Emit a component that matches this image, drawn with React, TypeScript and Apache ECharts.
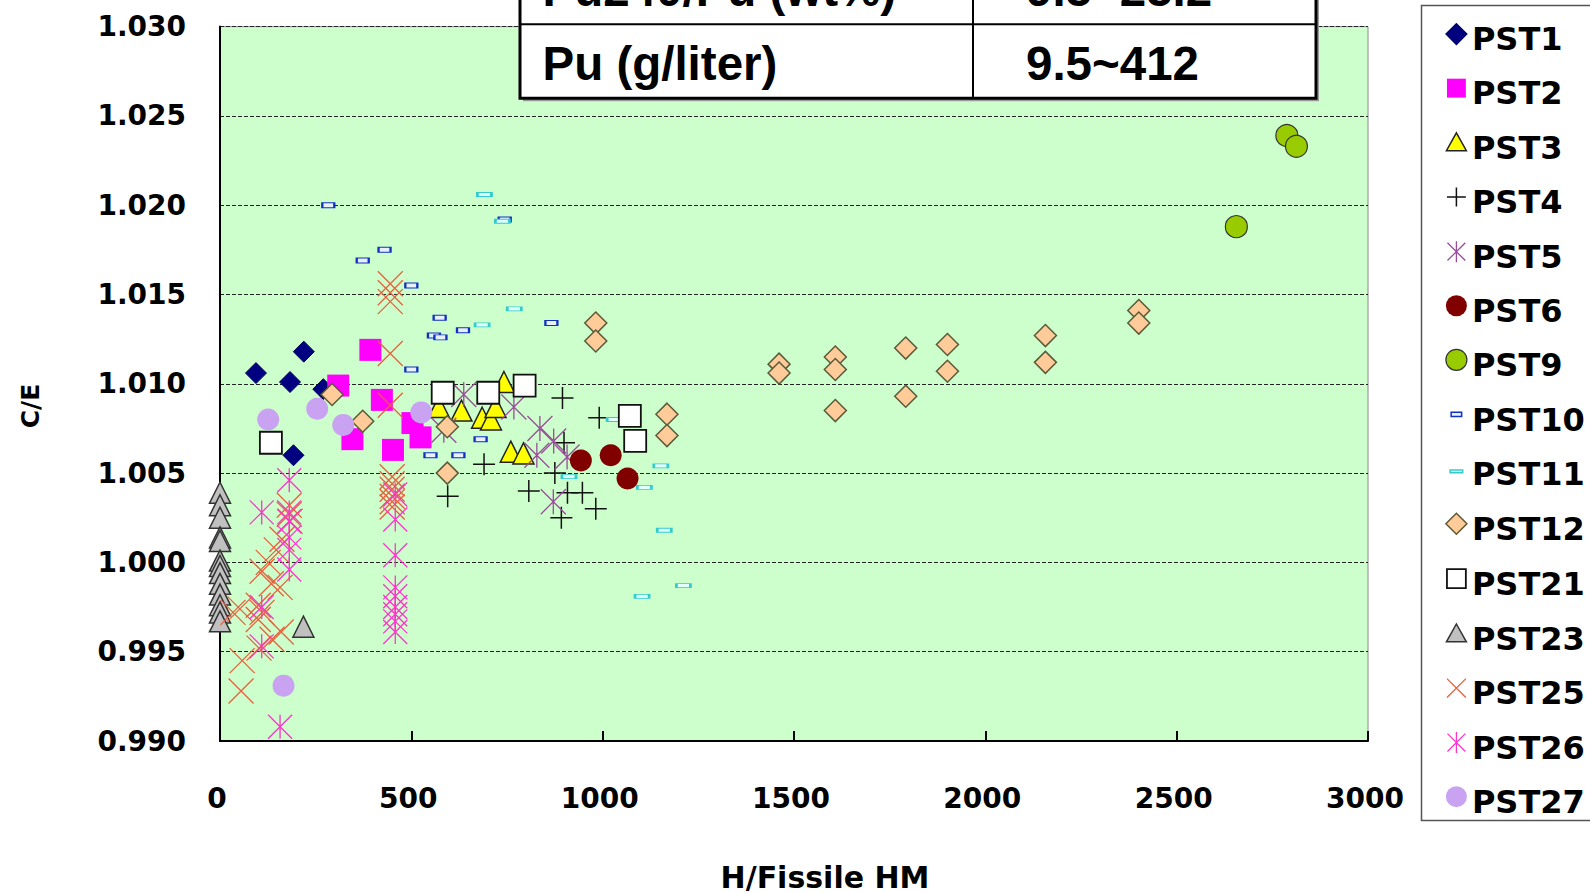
import React, { useEffect, useRef } from "react";
import * as echarts from "echarts";

// ---------- data (x = H/Fissile HM, y = C/E) ----------
const seriesNames = ["PST1", "PST2", "PST3", "PST4", "PST5", "PST6", "PST9", "PST10", "PST11", "PST12", "PST21", "PST23", "PST25", "PST26", "PST27"];

const pst1 = [[94, 1.0106], [183, 1.0101], [219, 1.0118], [192, 1.006], [270, 1.0097]];
const pst2 = [[393, 1.0119], [309, 1.0099], [423, 1.0091], [346, 1.0069], [503, 1.0078], [524, 1.007], [452, 1.0063]];
const pst3 = [[572, 1.0087], [631, 1.0085], [685, 1.0081], [708, 1.008], [720, 1.0087], [742, 1.0101], [760, 1.0062], [793, 1.0061]];
const pst4 = [[895, 1.0092], [991, 1.0081], [690, 1.0055], [595, 1.0037], [807, 1.004], [899, 1.0067], [875, 1.005], [908, 1.0039], [947, 1.0039], [982, 1.003], [892, 1.0025]];
const pst5 = [[637, 1.0094], [768, 1.0087], [836, 1.0075], [872, 1.0068], [828, 1.006], [907, 1.0059], [585, 1.0074], [871, 1.0034]];
const pst6 = [[943, 1.0057], [1021, 1.006], [1065, 1.0047]];
const pst9 = [[2788, 1.0239], [2813, 1.0233], [2656, 1.0188]];
const pst10 = [[283, 1.02], [430, 1.0175], [373, 1.0169], [500, 1.0155], [574, 1.0137], [635, 1.013], [559, 1.0127], [576, 1.0126], [866, 1.0134], [744, 1.0192], [500, 1.0108], [681, 1.0069], [550, 1.006], [623, 1.006]];
const pst11 = [[691, 1.0206], [738, 1.0191], [769, 1.0142], [685, 1.0133], [1030, 1.008], [912, 1.0048], [1152, 1.0054], [1109, 1.0042], [1161, 1.0018], [1103, 0.9981], [1211, 0.9987]];
const pst12 = [[293, 1.0094], [373, 1.0079], [594, 1.0076], [594, 1.005], [982, 1.0134], [982, 1.0124], [1168, 1.0083], [1168, 1.0071], [1461, 1.0111], [1461, 1.0106], [1608, 1.0115], [1608, 1.0108], [1608, 1.0085], [1792, 1.012], [1792, 1.0093], [1901, 1.0122], [1901, 1.0107], [2157, 1.0127], [2157, 1.0112], [2401, 1.0141], [2401, 1.0134]];
const pst21 = [[133, 1.0067], [582, 1.0095], [701, 1.0095], [796, 1.0099], [1071, 1.0082], [1085, 1.0068]];
const pst23 = [[0, 1.0039], [0, 1.0032], [0, 1.0025], [0, 1.0014], [0, 1.0012], [0, 1.0001], [0, 0.9998], [0, 0.9994], [0, 0.9988], [0, 0.9982], [0, 0.9976], [0, 0.9972], [0, 0.9967], [218, 0.9964]];
const pst25 = [[445, 1.0156], [445, 1.0151], [445, 1.0146], [445, 1.0117], [445, 1.0088], [450, 1.0048], [450, 1.0044], [450, 1.0041], [450, 1.0037], [450, 1.0034], [450, 1.0031], [181, 1.0032], [181, 1.0027], [183, 1.0023], [162, 1.0013], [147, 1.0007], [126, 1.0], [110, 0.9995], [134, 0.9988], [157, 0.9986], [52, 0.9974], [34, 0.9972], [100, 0.9976], [110, 0.9972], [100, 0.9968], [160, 0.9961], [136, 0.9957], [102, 0.9952], [58, 0.9945], [55, 0.9928]];
const pst26 = [[181, 1.0046], [181, 1.0028], [181, 1.0023], [181, 1.0014], [181, 1.0007], [181, 0.9996], [109, 1.0028], [109, 0.9975], [109, 0.9953], [157, 0.9908], [458, 1.0038], [458, 1.0024], [458, 1.0004], [458, 0.9986], [458, 0.9981], [458, 0.9975], [458, 0.9971], [458, 0.9967], [458, 0.9961]];
const pst27 = [[126, 1.008], [254, 1.0086], [322, 1.0077], [526, 1.0084], [166, 0.9931]];

const seriesData = [pst1, pst2, pst3, pst4, pst5, pst6, pst9, pst10, pst11, pst12, pst21, pst23, pst25, pst26, pst27];

const xMin = 0;
const xMax = 3000;
const xStep = 500;
const yMin = 0.99;
const yMax = 1.03;
const yStep = 0.005;

const xTitle = "H/Fissile HM";
const yTitle = "C/E";
const tableRows = [
  ["Pu240/Pu (wt%)", "9.5~25.2"],
  ["Pu (g/liter)", "9.5~412"],
];

// ---------- styles ----------
const PLUS = "path://M0,10L20,10M10,0L10,20";
const CROSS = "path://M0,0L20,20M20,0L0,20";
const STAR = "path://M0,0L20,20M20,0L0,20M10,0L10,20";
const NONE = "rgba(0,0,0,0)";

// legend icons in a 20x30 frame (shape in the upper part)
const I_DIAMOND = "path://M10,0L20,10L10,20L0,10ZM0,30";
const I_SQUARE = "path://M1,1L19,1L19,19L1,19ZM0,0M20,30";
const I_TRI = "path://M10,1L19.5,18L0.5,18ZM0,0M20,30";
const I_PLUS = "path://M10,1L10,19M1,10L19,10M0,0M20,30";
const I_STAR = "path://M1.5,1.5L18.5,18.5M18.5,1.5L1.5,18.5M10,0L10,20M0,0M20,30";
const I_CROSS = "path://M1,1L19,19M19,1L1,19M0,0M20,30";
const I_CIRCLE = "path://M0,10A10,10,0,1,1,20,10A10,10,0,1,1,0,10ZM0,0M20,30";
const I_DASH10 = "path://M5,8L15,8L15,12L5,12ZM0,0M20,30";
const I_DASH11 = "path://M4,11L16,11L16,13.5L4,13.5ZM0,0M20,30";

const markerStyles = [
  { symbol: "diamond", size: 21, fill: "#000080", stroke: "#000060", width: 1, icon: I_DIAMOND },
  { symbol: "rect", size: 22, fill: "#FF00FF", stroke: "#FF00FF", width: 0, icon: I_SQUARE },
  { symbol: "triangle", size: 21, fill: "#FFFF00", stroke: "#222222", width: 1.5, icon: I_TRI },
  { symbol: PLUS, size: 22, fill: NONE, stroke: "#111111", width: 1.5, icon: I_PLUS },
  { symbol: STAR, size: 25, fill: NONE, stroke: "#9A4C9A", width: 1.3, icon: I_STAR },
  { symbol: "circle", size: 22, fill: "#800000", stroke: "#800000", width: 0, icon: I_CIRCLE },
  { symbol: "circle", size: 22, fill: "#99CC00", stroke: "#333333", width: 1.2, icon: I_CIRCLE },
  { symbol: "rect", size: [12, 5], fill: "#E8F0FF", stroke: "#1030C0", width: 1.5, icon: I_DASH10 },
  { symbol: "rect", size: [14, 4], fill: "#E0FFFF", stroke: "#33CCCC", width: 1.5, icon: I_DASH11 },
  { symbol: "diamond", size: 22, fill: "#FFCC99", stroke: "#5A5A3A", width: 1.5, icon: I_DIAMOND },
  { symbol: "rect", size: 22, fill: "#FFFFFF", stroke: "#111111", width: 1.8, icon: I_SQUARE },
  { symbol: "triangle", size: 21, fill: "#C0C0C0", stroke: "#333333", width: 1.5, icon: I_TRI },
  { symbol: CROSS, size: 25, fill: NONE, stroke: "#E8603C", width: 1.3, icon: I_CROSS },
  { symbol: STAR, size: 24, fill: NONE, stroke: "#FF33CC", width: 1.3, icon: I_STAR },
  { symbol: "circle", size: 22, fill: "#C9A3F2", stroke: "#C9A3F2", width: 0, icon: I_CIRCLE },
];

const LABEL_FONT = "'DejaVu Sans', Verdana, sans-serif";
const TABLE_FONT = "bold 47.5px 'Liberation Sans', Arial, sans-serif";

export default function App() {
  const ref = useRef<HTMLDivElement>(null);

  useEffect(() => {
    if (!ref.current) return;
    const chart = echarts.init(ref.current, null, { renderer: "svg" });

    const series = seriesNames.map((name, i) => {
      const st = markerStyles[i];
      return {
        name,
        type: "scatter",
        data: seriesData[i],
        symbol: st.symbol,
        symbolSize: st.size,
        itemStyle: { color: st.fill, borderColor: st.stroke, borderWidth: st.width, opacity: 1 },
        emphasis: { disabled: true },
        silent: true,
      };
    });

    const tableLeft = 520;
    const tableRight = 1316;
    const rowDiv = 24.3;
    const tableBottom = 98.3;
    const colDiv = 973;

    const option = {
      animation: false,
      backgroundColor: "#FFFFFF",
      grid: {
        left: 220,
        right: 222,
        top: 26.6,
        bottom: 152,
        show: true,
        backgroundColor: "#CCFFCC",
        borderColor: "#8A8A8A",
        borderWidth: 1,
      },
      xAxis: {
        type: "value",
        min: xMin,
        max: xMax,
        interval: xStep,
        axisLine: { show: true, onZero: false, lineStyle: { color: "#000", width: 2 } },
        axisTick: { show: true, inside: true, length: 10, lineStyle: { color: "#000", width: 2 } },
        splitLine: { show: false },
        axisLabel: {
          margin: 43,
          padding: [0, 6, 0, 0],
          fontFamily: LABEL_FONT,
          fontWeight: "bold",
          fontSize: 28,
          color: "#000",
          formatter: (v: number) => String(Math.round(v)),
        },
      },
      yAxis: {
        type: "value",
        min: yMin,
        max: yMax,
        interval: yStep,
        axisLine: { show: true, onZero: false, lineStyle: { color: "#000", width: 2 } },
        axisTick: { show: false },
        splitLine: { show: true, lineStyle: { color: "#222", width: 1, type: [4, 2] } },
        axisLabel: {
          margin: 34,
          fontFamily: LABEL_FONT,
          fontWeight: "bold",
          fontSize: 28,
          color: "#000",
          formatter: (v: number) => v.toFixed(3),
        },
      },
      legend: {
        orient: "vertical",
        left: 1445,
        top: 23,
        padding: 0,
        itemGap: 21.7,
        itemWidth: 21,
        itemHeight: 31.5,
        selectedMode: false,
        textStyle: { fontFamily: LABEL_FONT, fontWeight: "bold", fontSize: 32, color: "#000", lineHeight: 32 },
        data: seriesNames.map((n, i) => ({
          name: n,
          icon: markerStyles[i].icon,
          itemStyle: {
            color: markerStyles[i].fill,
            borderColor: markerStyles[i].stroke,
            borderWidth: markerStyles[i].width === 0 ? 0 : Math.max(1.2, markerStyles[i].width),
          },
        })),
      },
      graphic: [
        {
          type: "rect",
          z: 0,
          shape: { x: 1421.5, y: 5.5, width: 220, height: 815 },
          style: { fill: NONE, stroke: "#555", lineWidth: 1.5 },
        },
        {
          type: "text",
          z: 10,
          x: 825,
          y: 877,
          style: { text: xTitle, fontFamily: LABEL_FONT, fontWeight: "bold", fontSize: 30, lineHeight: 30, fill: "#000", align: "center", verticalAlign: "middle" },
        },
        {
          type: "text",
          z: 10,
          x: 30,
          y: 406,
          rotation: Math.PI / 2,
          style: { text: yTitle, fontFamily: LABEL_FONT, fontWeight: "bold", fontSize: 25, fill: "#000", align: "center", verticalAlign: "middle" },
        },
        {
          type: "group",
          z: 100,
          children: [
            {
              type: "rect",
              z: 100,
              shape: { x: tableLeft + 3, y: -60, width: tableRight - tableLeft, height: tableBottom + 63 },
              style: { fill: "#9A9A9A" },
            },
            {
              type: "rect",
              z: 101,
              shape: { x: tableLeft, y: -60, width: tableRight - tableLeft, height: tableBottom + 60 },
              style: { fill: "#FFFFFF", stroke: "#000", lineWidth: 3 },
            },
            {
              type: "line",
              z: 102,
              shape: { x1: tableLeft, y1: rowDiv, x2: tableRight, y2: rowDiv },
              style: { stroke: "#000", lineWidth: 2 },
            },
            {
              type: "line",
              z: 102,
              shape: { x1: colDiv, y1: -60, x2: colDiv, y2: tableBottom },
              style: { stroke: "#000", lineWidth: 2 },
            },
            {
              type: "text",
              z: 103,
              x: 542.5,
              y: -11,
              style: { text: tableRows[0][0], font: TABLE_FONT, fill: "#000", align: "left", verticalAlign: "middle" },
            },
            {
              type: "text",
              z: 103,
              x: 1026,
              y: -11,
              style: { text: tableRows[0][1], font: TABLE_FONT, fill: "#000", align: "left", verticalAlign: "middle" },
            },
            {
              type: "text",
              z: 103,
              x: 542.5,
              y: 63,
              style: { text: tableRows[1][0], font: TABLE_FONT, fill: "#000", align: "left", verticalAlign: "middle" },
            },
            {
              type: "text",
              z: 103,
              x: 1026,
              y: 63,
              style: { text: tableRows[1][1], font: TABLE_FONT, fill: "#000", align: "left", verticalAlign: "middle" },
            },
          ],
        },
      ],
      series,
    };

    chart.setOption(option as any);
    return () => {
      chart.dispose();
    };
  }, []);

  return (
    <div
      ref={ref}
      style={{ position: "fixed", left: 0, top: 0, width: 1590, height: 893, background: "#FFFFFF" }}
    />
  );
}
